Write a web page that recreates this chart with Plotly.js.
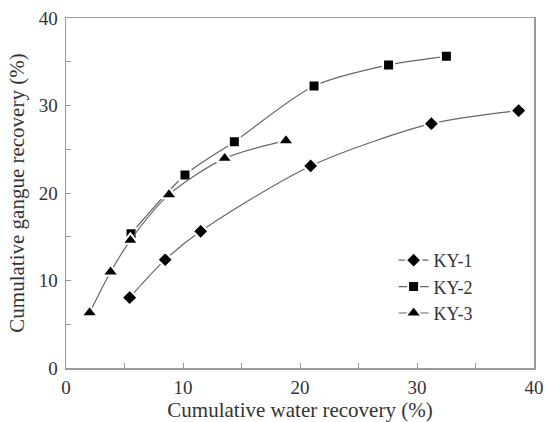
<!DOCTYPE html>
<html>
<head>
<meta charset="utf-8">
<script src="https://cdn.plot.ly/plotly-3.0.1.min.js"></script>
<style>html,body{margin:0;padding:0;background:#fff;}#chart{width:545px;height:422px;}</style>
</head>
<body>
<div id="chart"></div>
<script>
const seriesNames = ["KY-1", "KY-2", "KY-3"];
const ky1X = [5.44, 8.48, 11.51, 20.91, 31.23, 38.69];
const ky1Y = [8.04, 12.38, 15.62, 23.09, 27.92, 29.41];
const ky2X = [5.56, 10.17, 14.39, 21.20, 27.57, 32.51];
const ky2Y = [15.35, 22.06, 25.87, 32.23, 34.63, 35.62];
const ky3X = [2.02, 3.81, 5.50, 8.80, 13.56, 18.80];
const ky3Y = [6.32, 10.97, 14.59, 19.81, 23.96, 25.98];
const tickValues = [0, 5, 10, 15, 20, 25, 30, 35, 40];
const tickLabels = ["0", "", "10", "", "20", "", "30", "", "40"];

const font = "Liberation Serif";
const textColor = "#333";
function tr(name, x, y, symbol, size) {
  return {
    x: x, y: y, name: name, type: "scatter", mode: "lines+markers",
    line: {shape: "spline", smoothing: 0.8, color: "#666", width: 1.2},
    marker: {symbol: symbol, size: size, color: "#000", line: {color: "#fff", width: 2}}
  };
}
const data = [
  tr(seriesNames[0], ky1X, ky1Y, "diamond", 12),
  tr(seriesNames[1], ky2X, ky2Y, "square", 11),
  tr(seriesNames[2], ky3X, ky3Y, "triangle-up", 14)
];
const axisCommon = {
  range: [0, 40], tickmode: "array", tickvals: tickValues, ticktext: tickLabels,
  ticks: "inside", ticklen: 5, tickcolor: "#999", tickwidth: 1,
  showline: true, linecolor: "#999", linewidth: 1.5, mirror: true,
  showgrid: false, zeroline: false,
  tickfont: {family: font, size: 19, color: textColor}
};
const layout = {
  width: 545, height: 422,
  margin: {l: 66, r: 11, t: 18, b: 54},
  paper_bgcolor: "#fff", plot_bgcolor: "#fff",
  showlegend: true,
  legend: {x: 0.70, y: 0.36, xanchor: "left", yanchor: "top",
    font: {family: font, size: 18, color: textColor}, bgcolor: "rgba(0,0,0,0)", tracegroupgap: 0,
    itemwidth: 30},
  xaxis: Object.assign({}, axisCommon, {
    ticklabelstandoff: 2,
    title: {text: "Cumulative water recovery (%)", font: {family: font, size: 21, color: textColor}, standoff: 2}
  }),
  yaxis: Object.assign({}, axisCommon, {
    ticklabelstandoff: 3,
    title: {text: "Cumulative gangue recovery (%)", font: {family: font, size: 21, color: textColor}, standoff: 8}
  })
};
Plotly.newPlot("chart", data, layout, {displayModeBar: false, staticPlot: true});
</script>
</body>
</html>
